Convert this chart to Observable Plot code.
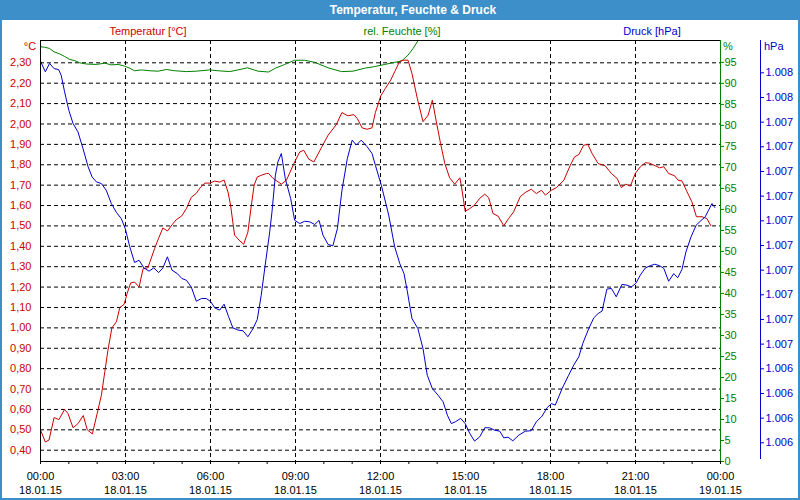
<!DOCTYPE html>
<html><head><meta charset="utf-8">
<script src="https://cdn.jsdelivr.net/npm/d3@7"></script>
<script src="https://cdn.jsdelivr.net/npm/@observablehq/plot@0.6"></script>
<style>
body{margin:0;background:#fff;font-family:"Liberation Sans",Arial,sans-serif;}
#wrap{position:relative;width:800px;height:500px;overflow:hidden;background:#fff;}
#chart{position:absolute;left:0;top:0;}
#bar{position:absolute;left:0;top:0;width:800px;height:20px;background:#3d8fc9;}
#title{position:absolute;left:413px;top:10px;transform:translate(-50%,-50%);color:#fff;font-weight:bold;font-size:12px;white-space:nowrap;}
#border{position:absolute;left:0;top:0;width:800px;height:500px;box-sizing:border-box;border:2px solid #3d8fc9;border-top:none;pointer-events:none;}
.lab{position:absolute;font-size:11px;white-space:nowrap;transform:translate(-50%,-50%);}
.lft{position:absolute;font-size:11px;white-space:nowrap;transform:translate(0,-50%);}
</style>
</head><body>
<div id="wrap">
  <div id="chart"></div>
  <div id="bar"></div>
  <div id="title">Temperatur, Feuchte &amp; Druck</div>
  <div class="lab" style="left:148px;top:31px;color:#cc0000">Temperatur [°C]</div>
  <div class="lab" style="left:402px;top:31px;color:#008000">rel. Feuchte [%]</div>
  <div class="lab" style="left:652px;top:31px;color:#0000cc">Druck [hPa]</div>
  <div class="lab" style="left:30px;top:46px;color:#cc0000">°C</div>
  <div class="lft" style="left:723px;top:46px;color:#008000">%</div>
  <div class="lft" style="left:764px;top:46px;color:#0000cc">hPa</div>
  <div id="border"></div>
</div>
<script>
// ---- data (hours since 18.01.15 00:00) ----
const tempHours = [0.0,0.17,0.30,0.48,0.65,0.85,0.97,1.15,1.32,1.51,1.65,1.83,2.00,2.15,2.27,2.38,2.52,2.68,2.80,2.95,3.06,3.18,3.32,3.48,3.62,3.79,4.03,4.17,4.32,4.48,4.64,4.79,4.99,5.15,5.32,5.50,5.65,5.80,5.97,6.15,6.32,6.48,6.62,6.71,6.85,7.01,7.17,7.32,7.44,7.54,7.65,7.82,7.98,8.05,8.21,8.50,8.68,8.97,9.15,9.29,9.47,9.65,9.91,10.15,10.44,10.64,10.85,11.06,11.18,11.35,11.53,11.70,11.82,12.01,12.17,12.36,12.50,12.68,12.83,12.97,13.11,13.30,13.50,13.68,13.83,13.97,14.12,14.27,14.44,14.62,14.80,14.85,14.99,15.15,15.32,15.50,15.68,15.82,15.97,16.15,16.35,16.52,16.70,16.93,17.11,17.32,17.50,17.68,17.82,18.03,18.20,18.47,18.70,18.85,19.00,19.17,19.32,19.47,19.68,19.93,20.15,20.35,20.50,20.66,20.82,20.99,21.17,21.35,21.49,21.70,21.85,22.00,22.17,22.38,22.50,22.64,22.82,22.99,23.15,23.35,23.52,23.66];
const tempValues = [0.50,0.44,0.45,0.56,0.55,0.60,0.58,0.51,0.53,0.57,0.50,0.48,0.58,0.67,0.785,0.89,1.00,1.03,1.10,1.115,1.17,1.22,1.225,1.20,1.29,1.295,1.39,1.44,1.49,1.475,1.505,1.53,1.55,1.585,1.64,1.66,1.69,1.71,1.71,1.72,1.715,1.725,1.665,1.60,1.455,1.43,1.41,1.47,1.60,1.70,1.74,1.75,1.757,1.757,1.733,1.705,1.724,1.814,1.863,1.871,1.827,1.814,1.883,1.945,1.997,2.056,2.040,2.046,2.027,1.981,1.974,1.981,2.056,2.138,2.174,2.215,2.256,2.308,2.313,2.313,2.248,2.125,2.011,2.043,2.117,2.011,1.904,1.806,1.736,1.705,1.736,1.700,1.572,1.585,1.602,1.635,1.656,1.638,1.561,1.548,1.501,1.536,1.569,1.643,1.664,1.680,1.659,1.675,1.651,1.675,1.687,1.724,1.798,1.839,1.850,1.896,1.899,1.855,1.806,1.795,1.757,1.733,1.688,1.705,1.695,1.757,1.790,1.810,1.808,1.795,1.785,1.790,1.757,1.746,1.724,1.721,1.667,1.618,1.545,1.545,1.536,1.501];

const humHours = [0.0,0.15,0.32,0.48,0.68,0.85,1.03,1.21,1.38,1.62,1.97,2.27,2.50,2.74,2.97,3.15,3.32,3.56,3.86,4.15,4.44,4.74,5.15,5.50,5.97,6.27,6.68,6.97,7.30,7.68,8.05,8.29,8.62,8.97,9.32,9.68,10.15,10.62,11.03,11.44,11.80,12.15,12.50,12.74,12.97,13.15,13.32,13.45];
const humValues = [98.7,98.6,98.3,97.5,97.0,96.4,95.7,95.4,94.9,94.6,94.5,94.8,94.4,94.5,94.1,93.6,93.0,93.2,93.0,92.9,93.3,93.0,92.8,92.9,93.2,93.0,92.8,93.2,93.7,92.9,92.7,93.6,94.5,95.5,95.5,95.0,93.7,92.8,92.9,93.6,94.0,94.5,95.0,95.3,96.7,98.3,100.1,101.5];

const pressHours = [0.0,0.17,0.32,0.48,0.64,0.73,0.85,1.00,1.15,1.32,1.50,1.68,1.82,1.97,2.15,2.32,2.50,2.68,2.85,2.99,3.15,3.32,3.48,3.65,3.83,4.00,4.17,4.32,4.48,4.64,4.83,4.99,5.15,5.32,5.50,5.68,5.85,6.01,6.15,6.32,6.48,6.64,6.79,6.97,7.15,7.32,7.50,7.65,7.79,7.93,8.09,8.17,8.29,8.38,8.50,8.64,8.83,8.97,9.15,9.32,9.50,9.68,9.83,9.97,10.15,10.32,10.48,10.64,10.83,11.00,11.15,11.32,11.53,11.70,11.82,12.03,12.29,12.50,12.68,12.83,12.95,13.11,13.32,13.50,13.65,13.83,14.03,14.21,14.36,14.50,14.64,14.83,14.99,15.15,15.32,15.50,15.68,15.85,16.03,16.21,16.35,16.50,16.67,16.88,17.11,17.32,17.50,17.70,17.88,18.03,18.17,18.41,18.64,18.82,19.00,19.14,19.35,19.53,19.68,19.82,19.99,20.15,20.32,20.52,20.70,20.85,21.01,21.17,21.35,21.52,21.68,21.85,22.00,22.17,22.35,22.49,22.64,22.78,22.96,23.14,23.32,23.46,23.58,23.70,23.80];
const pressValues = [1007.647,1007.604,1007.638,1007.617,1007.613,1007.590,1007.523,1007.448,1007.394,1007.361,1007.293,1007.219,1007.178,1007.158,1007.151,1007.124,1007.070,1007.034,1007.009,1006.969,1006.895,1006.831,1006.840,1006.809,1006.796,1006.809,1006.790,1006.809,1006.854,1006.800,1006.786,1006.766,1006.759,1006.732,1006.674,1006.685,1006.685,1006.672,1006.647,1006.638,1006.662,1006.611,1006.566,1006.557,1006.554,1006.530,1006.563,1006.600,1006.698,1006.820,1006.955,1007.036,1007.185,1007.239,1007.273,1007.171,1007.090,1007.002,1006.989,1006.998,1006.996,1006.985,1007.002,1006.942,1006.904,1006.899,1006.969,1007.124,1007.253,1007.327,1007.307,1007.327,1007.300,1007.273,1007.225,1007.144,1007.023,1006.895,1006.827,1006.786,1006.712,1006.604,1006.563,1006.482,1006.374,1006.320,1006.293,1006.266,1006.212,1006.178,1006.185,1006.199,1006.178,1006.138,1006.107,1006.124,1006.161,1006.161,1006.151,1006.147,1006.120,1006.123,1006.108,1006.131,1006.147,1006.149,1006.185,1006.208,1006.242,1006.259,1006.253,1006.320,1006.374,1006.415,1006.449,1006.503,1006.563,1006.607,1006.624,1006.634,1006.723,1006.726,1006.692,1006.742,1006.739,1006.732,1006.746,1006.780,1006.809,1006.818,1006.824,1006.818,1006.807,1006.755,1006.786,1006.769,1006.803,1006.874,1006.935,1006.982,1007.002,1007.016,1007.043,1007.070,1007.054];

// ---- ticks ----
const tempTicks = [0.40,0.50,0.60,0.70,0.80,0.90,1.00,1.10,1.20,1.30,1.40,1.50,1.60,1.70,1.80,1.90,2.00,2.10,2.20,2.30];
const humTicks = [0,5,10,15,20,25,30,35,40,45,50,55,60,65,70,75,80,85,90,95];
const pressTicks = [1006.1,1006.2,1006.3,1006.4,1006.5,1006.6,1006.7,1006.8,1006.9,1007.0,1007.1,1007.2,1007.3,1007.4,1007.5,1007.6];
const timeTicks = [0,3,6,9,12,15,18,21,24];
const timeLabels = ["00:00","03:00","06:00","09:00","12:00","15:00","18:00","21:00","00:00"];
const dateLabels = ["18.01.15","18.01.15","18.01.15","18.01.15","18.01.15","18.01.15","18.01.15","18.01.15","19.01.15"];
const hourMarks = [0,1,2,3,4,5,6,7,8,9,10,11,12,13,14,15,16,17,18,19,20,21,22,23,24];
const gridHours = [3,6,9,12,15,18,21];

// ---- scale domains (primary = temperature) ----
const T0 = 0.3446, T1 = 2.4094;
const H0 = 0, H1 = 100.2;
const P0 = 1006.0242, P1 = 1007.731;
const fromH = h => T0 + (h - H0) / (H1 - H0) * (T1 - T0);
const toH = t => H0 + (t - T0) / (T1 - T0) * (H1 - H0);
const fromP = p => T0 + (p - P0) / (P1 - P0) * (T1 - T0);
const toP = t => P0 + (t - T0) / (T1 - T0) * (P1 - P0);

const temp = tempHours.map((t, i) => ({t, v: tempValues[i]}));
const hum = humHours.map((t, i) => ({t, v: fromH(humValues[i])}));
const press = pressHours.map((t, i) => ({t, v: fromP(pressValues[i])}));

const RED = "#cc0000", GREEN = "#008000", BLUE = "#0000cc";
const dash = "4,3";

const chart = Plot.plot({
  width: 800, height: 500,
  marginTop: 40, marginBottom: 39, marginLeft: 40, marginRight: 80,
  style: {fontFamily: "'Liberation Sans', Arial, sans-serif", fontSize: "11px", background: "transparent", overflow: "visible"},
  x: {domain: [0, 24], axis: null, label: null},
  y: {domain: [T0, T1], axis: null, label: null},
  marks: [
    Plot.gridY(tempTicks, {stroke: "#000", strokeOpacity: 1, strokeDasharray: dash}),
    Plot.gridX(gridHours, {stroke: "#000", strokeOpacity: 1, strokeDasharray: dash}),
    Plot.line(hum, {x: "t", y: "v", stroke: GREEN, strokeWidth: 1, clip: true}),
    Plot.line(temp, {x: "t", y: "v", stroke: RED, strokeWidth: 1}),
    Plot.line(press, {x: "t", y: "v", stroke: BLUE, strokeWidth: 1}),
    Plot.ruleY([T1], {stroke: "#000"}),
    Plot.ruleY([T0], {stroke: "#000"}),
    Plot.ruleX([0], {stroke: "#000"}),
    Plot.ruleX([24], {stroke: GREEN}),
    Plot.ruleX([24], {stroke: BLUE, dx: 40, insetBottom: 2}),
    Plot.axisY(tempTicks, {anchor: "left", label: null, tickSize: 0, tickPadding: 9, color: RED,
      tickFormat: d => d.toFixed(2).replace(".", ",")}),
    Plot.axisY(humTicks.map(fromH), {anchor: "right", label: null, tickSize: 3, tickPadding: 1, color: GREEN,
      tickFormat: d => String(Math.round(toH(d)))}),
    Plot.axisY(pressTicks.map(fromP), {anchor: "right", label: null, dx: 40, tickSize: 3, tickPadding: 2, color: BLUE,
      tickFormat: d => (Math.round(toP(d)) / 1000).toFixed(3)}),
    Plot.axisX(hourMarks, {anchor: "bottom", label: null, tickSize: 3, tickFormat: () => "", color: "#000"}),
    Plot.axisX(timeTicks, {anchor: "bottom", label: null, tickSize: 0, tickPadding: 8, lineHeight: 1.3, color: "#000",
      tickFormat: d => { const i = timeTicks.indexOf(d); return timeLabels[i] + "\n" + dateLabels[i]; }})
  ]
});
document.getElementById("chart").appendChild(chart);
</script>
</body></html>
